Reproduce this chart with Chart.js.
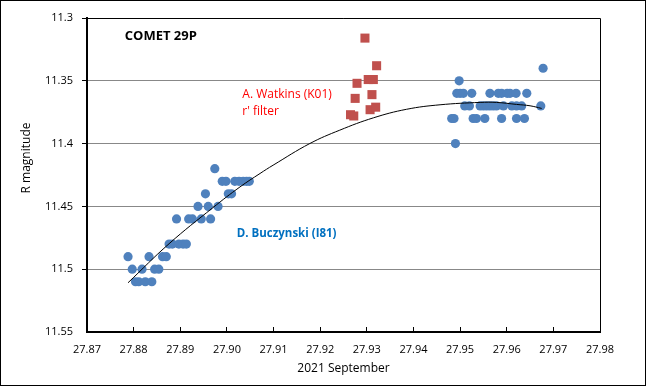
<!DOCTYPE html>
<html>
<head>
<meta charset="utf-8">
<script src="https://cdn.jsdelivr.net/npm/chart.js@4"></script>
<style>
  body { margin: 0; background: #fff; }
  #wrap { width: 646px; height: 386px; }
</style>
</head>
<body>
<div id="wrap"><canvas id="comet" width="646" height="386"></canvas></div>
<script>
// D. Buczynski (I81) - blue dots
const buczX = [27.8788, 27.8797, 27.8804, 27.8811, 27.8818, 27.8825, 27.8833, 27.8839, 27.8845, 27.8854,
  27.8862, 27.8870, 27.8876, 27.8883, 27.8892, 27.8897, 27.8906, 27.8913, 27.8918, 27.8926,
  27.8938, 27.8945, 27.8954, 27.8960, 27.8965, 27.8974, 27.8981, 27.8990, 27.8998, 27.9003,
  27.9010, 27.9017, 27.9026, 27.9035, 27.9042, 27.9048,
  27.9498,
  27.9493, 27.9500, 27.9507, 27.9525, 27.9564, 27.9582, 27.9589, 27.9601, 27.9607, 27.9620, 27.9643,
  27.9510, 27.9520, 27.9543, 27.9550, 27.9557, 27.9564, 27.9571, 27.9578, 27.9593, 27.9611, 27.9621, 27.9632, 27.9673,
  27.9482, 27.9487, 27.9528, 27.9535, 27.9553, 27.9589, 27.9621, 27.9638,
  27.9490, 27.9678];
const buczMag = [11.49, 11.50, 11.51, 11.51, 11.50, 11.51, 11.49, 11.51, 11.50, 11.50,
  11.49, 11.49, 11.48, 11.48, 11.46, 11.48, 11.48, 11.48, 11.46, 11.46,
  11.45, 11.46, 11.44, 11.45, 11.46, 11.42, 11.45, 11.43, 11.43, 11.44,
  11.44, 11.43, 11.43, 11.43, 11.43, 11.43,
  11.35,
  11.36, 11.36, 11.36, 11.36, 11.36, 11.36, 11.36, 11.36, 11.36, 11.36, 11.36,
  11.37, 11.37, 11.37, 11.37, 11.37, 11.37, 11.37, 11.37, 11.37, 11.37, 11.37, 11.37, 11.37,
  11.38, 11.38, 11.38, 11.38, 11.38, 11.38, 11.38, 11.38,
  11.40, 11.34];

// A. Watkins (K01) r' filter - red squares
const watkX = [27.9296, 27.9321, 27.9279, 27.9303, 27.9314, 27.9275, 27.9311, 27.9307, 27.9319, 27.9265, 27.9272];
const watkMag = [11.316, 11.338, 11.352, 11.349, 11.349, 11.364, 11.361, 11.373, 11.371, 11.377, 11.378];

// trend line
const trendX = [27.8788, 27.8876, 27.8970, 27.9028, 27.9071, 27.9099, 27.9178, 27.9242, 27.9314,
  27.9385, 27.9457, 27.9543, 27.9578, 27.9621, 27.9650, 27.9675];
const trendMag = [11.5108, 11.4797, 11.4510, 11.4345, 11.4238, 11.4172, 11.3999, 11.3893, 11.3795,
  11.3727, 11.3691, 11.3672, 11.3672, 11.3688, 11.3699, 11.3720];

const notes = [
  { text: 'COMET 29P', x: 27.8781, y: 11.3142, color: '#000000', font: 'bold 13px "Open Sans"' },
  { text: 'A. Watkins (K01)', x: 27.9033, y: 11.3606, color: '#FF0000', font: '12px "Open Sans"' },
  { text: "r' filter", x: 27.9033, y: 11.3747, color: '#FF0000', font: '12px "Open Sans"' },
  { text: 'D. Buczynski (I81)', x: 27.9021, y: 11.4717, color: '#0070C0', font: 'bold 11.5px "Open Sans"' }
];

const xTitle = '2021 September';
const yTitle = 'R magnitude';

function pts(xs, ys) {
  return xs.map((x, i) => ({ x: x, y: ys[i] }));
}

const frame = {
  id: 'frame',
  afterDraw(chart) {
    const c = chart.ctx, a = chart.chartArea;
    c.save();
    c.strokeStyle = '#000';
    c.lineWidth = 1;
    c.strokeRect(0.5, 0.5, chart.width - 1, chart.height - 1);
    c.beginPath();
    c.moveTo(a.left, a.top + 0.5);
    c.lineTo(a.right + 0.5, a.top + 0.5);
    c.lineTo(a.right + 0.5, a.bottom);
    c.stroke();
    c.textBaseline = 'middle';
    c.textAlign = 'left';
    notes.forEach(n => {
      c.font = n.font;
      c.fillStyle = n.color;
      c.fillText(n.text, chart.scales.x.getPixelForValue(n.x), chart.scales.y.getPixelForValue(n.y));
    });
    // axis titles
    c.font = '12px "Open Sans"';
    c.fillStyle = '#000';
    c.textAlign = 'center';
    c.fillText(xTitle, (a.left + a.right) / 2, 369);
    c.translate(27, 158);
    c.rotate(-Math.PI / 2);
    c.fillText(yTitle, 0, 0);
    c.restore();
  }
};

const tickFont = { family: 'Open Sans', size: 11 };

new Chart(document.getElementById('comet'), {
  type: 'scatter',
  data: {
    datasets: [
      {
        label: 'D. Buczynski (I81)',
        data: pts(buczX, buczMag),
        backgroundColor: '#4F81BD',
        borderColor: '#4F81BD',
        pointRadius: 4.6,
        borderWidth: 0,
        order: 2
      },
      {
        label: 'A. Watkins (K01)',
        data: pts(watkX, watkMag),
        pointStyle: 'rect',
        backgroundColor: '#C0504D',
        borderColor: '#C0504D',
        pointRadius: 6.4,
        borderWidth: 0,
        order: 1
      },
      {
        label: 'trend',
        data: pts(trendX, trendMag),
        showLine: true,
        tension: 0.4,
        borderColor: '#000',
        borderWidth: 1,
        pointRadius: 0,
        order: 0
      }
    ]
  },
  options: {
    responsive: false,
    animation: false,
    plugins: { legend: { display: false }, tooltip: { enabled: false } },
    layout: { padding: { top: 18, right: 46, left: 0, bottom: 0 } },
    scales: {
      x: {
        type: 'linear',
        min: 27.87,
        max: 27.98,
        ticks: {
          stepSize: 0.01,
          color: '#000',
          font: tickFont,
          padding: 16,
          callback: v => v.toFixed(2)
        },
        grid: { drawOnChartArea: false, tickColor: '#000', tickLength: -5, tickWidth: 1 },
        border: { color: '#000', width: 2 },
        afterFit: s => { s.height = 54; }
      },
      y: {
        type: 'linear',
        reverse: true,
        min: 11.3,
        max: 11.55,
        ticks: {
          stepSize: 0.05,
          color: '#000',
          font: tickFont,
          padding: 9,
          callback: v => String(+v.toFixed(2))
        },
        grid: { color: '#888888', tickColor: '#000', tickLength: 5, lineWidth: ctx => (ctx.index === 0 ? 0 : 1) },
        border: { color: '#000', width: 2 },
        afterFit: s => { s.width = 87; }
      }
    }
  },
  plugins: [frame]
});
</script>
</body>
</html>
